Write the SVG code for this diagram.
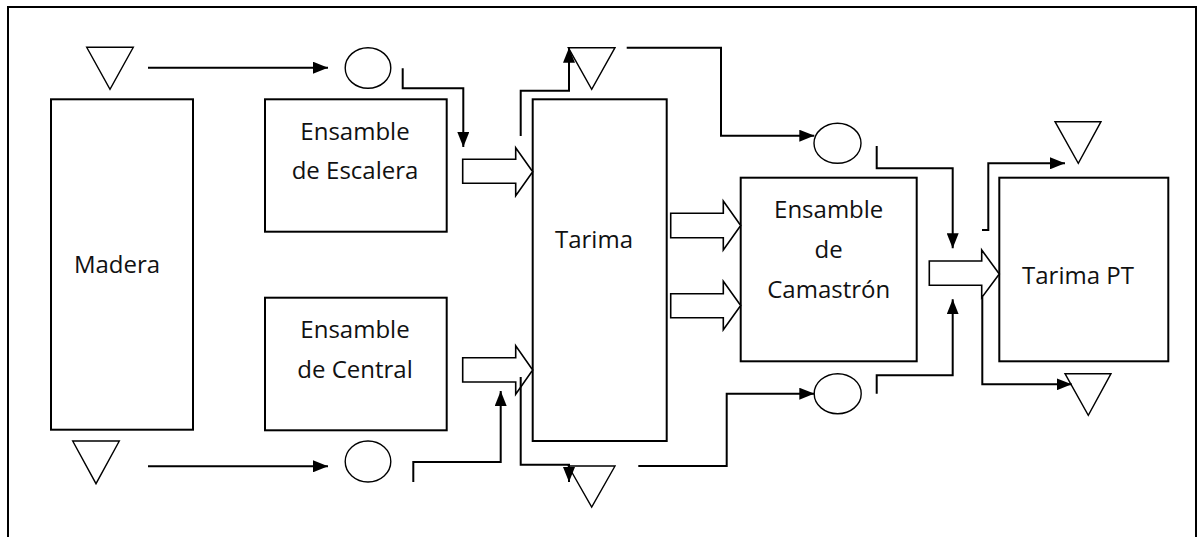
<svg xmlns="http://www.w3.org/2000/svg" width="1199" height="537" viewBox="0 0 1199 537">
<style>
.box{fill:#fff;stroke:#000;stroke-width:2}
.sym{fill:#fff;stroke:#000;stroke-width:1.4}
.blk{fill:#fff;stroke:#000;stroke-width:1.6}
.con{fill:none;stroke:#000;stroke-width:2}
text{font-family:"Open Sans","Noto Sans","Liberation Sans",sans-serif;font-size:24px;fill:#111;text-anchor:middle}
</style>
<defs>
<marker id="ah" viewBox="0 0 15 12" refX="15" refY="6" markerWidth="15" markerHeight="12" markerUnits="userSpaceOnUse" orient="auto">
<path d="M0 0 L15 6 L0 12 Z" fill="#000"/>
</marker>
</defs>
<rect width="1199" height="537" fill="#fff"/>
<rect x="8" y="7" width="1188" height="545" fill="none" stroke="#000" stroke-width="2"/>

<g id="madera"><rect class="box" x="51" y="99.3" width="142" height="330.4"/><text x="117" y="273">Madera</text></g>
<g id="escalera"><rect class="box" x="265" y="99.3" width="181.7" height="132.4"/><text x="355" y="140">Ensamble</text><text x="355" y="179">de Escalera</text></g>
<g id="central"><rect class="box" x="265" y="297.7" width="181.7" height="132.6"/><text x="355" y="337.5">Ensamble</text><text x="355" y="377.5">de Central</text></g>
<g id="tarima"><rect class="box" x="532.7" y="99.3" width="134" height="341.7"/><text x="594" y="248">Tarima</text></g>
<g id="camastron"><rect class="box" x="740.7" y="177.7" width="176" height="183.6"/><text x="828.7" y="217.5">Ensamble</text><text x="828.7" y="257.5">de</text><text x="828.7" y="297.5">Camastrón</text></g>
<g id="tarimapt"><rect class="box" x="999.3" y="177.7" width="169" height="183.6"/><text x="1078" y="284">Tarima PT</text></g>

<g id="alm1"><polygon class="sym" points="86.7,47.3 133.3,47.3 110,89.3"/></g>
<g id="alm2"><polygon class="sym" points="568.3,47.7 615,47.7 591.7,89.3"/></g>
<g id="alm3"><polygon class="sym" points="72.7,441 119.3,441 96,483.7"/></g>
<g id="alm4"><polygon class="sym" points="568.3,466 615,466 591.7,507"/></g>
<g id="alm5"><polygon class="sym" points="1055,121.7 1101,121.7 1078.3,163.3"/></g>
<g id="alm6"><polygon class="sym" points="1065,373.7 1111,373.7 1088.3,415.3"/></g>

<g id="op1"><ellipse class="sym" cx="368" cy="68" rx="22.8" ry="20.3"/></g>
<g id="op2"><ellipse class="sym" cx="837.5" cy="143.3" rx="23.5" ry="20"/></g>
<g id="op3"><ellipse class="sym" cx="368" cy="461.5" rx="22.8" ry="20.5"/></g>
<g id="op4"><ellipse class="sym" cx="837.7" cy="393.7" rx="23.5" ry="20"/></g>

<g id="connectors">
<path class="blk" d="M462.7 159.3 H515.7 V147.7 L532.7 171.7 L515.7 195.7 V183.3 H462.7 Z"/>
<path class="blk" d="M670.7 213.3 H723.3 V201 L740.7 225.5 L723.3 250 V237.7 H670.7 Z"/>
<path class="blk" d="M670.7 293.7 H723.3 V281.3 L740.7 305.5 L723.3 329.7 V317.7 H670.7 Z"/>
<path class="blk" d="M462.7 357.7 H515.7 V345.7 L532.7 370 L515.7 394.3 V382 H462.7 Z"/>
<path class="blk" d="M929.3 261 H981.7 V250 L999.3 274 L981.7 297.7 V285.3 H929.3 Z"/>

<path class="con" d="M148 67.7 H328" marker-end="url(#ah)"/>
<path class="con" d="M402.7 68.3 V88.3 H463.3 V147" marker-end="url(#ah)"/>
<path class="con" d="M520.7 136 V90.7 H569 V47.7" marker-end="url(#ah)"/>
<path class="con" d="M626.7 47.7 H721 V135.7 H814.3" marker-end="url(#ah)"/>
<path class="con" d="M876.7 146 V168.3 H952.7 V248.3" marker-end="url(#ah)"/>
<path class="con" d="M148 466.3 H328" marker-end="url(#ah)"/>
<path class="con" d="M413.3 482 V462 H500.7 V391" marker-end="url(#ah)"/>
<path class="con" d="M520.7 377 V464.7 H569 V482" marker-end="url(#ah)"/>
<path class="con" d="M638.3 466 H726.7 V393.7 H814.3" marker-end="url(#ah)"/>
<path class="con" d="M876.7 393.7 V375.3 H952.7 V299.3" marker-end="url(#ah)"/>
<path class="con" d="M982 230 H988.3 V163.3 H1065" marker-end="url(#ah)"/>
<path class="con" d="M982.3 297 V384.3 H1071.7" marker-end="url(#ah)"/>
</g>
</svg>
